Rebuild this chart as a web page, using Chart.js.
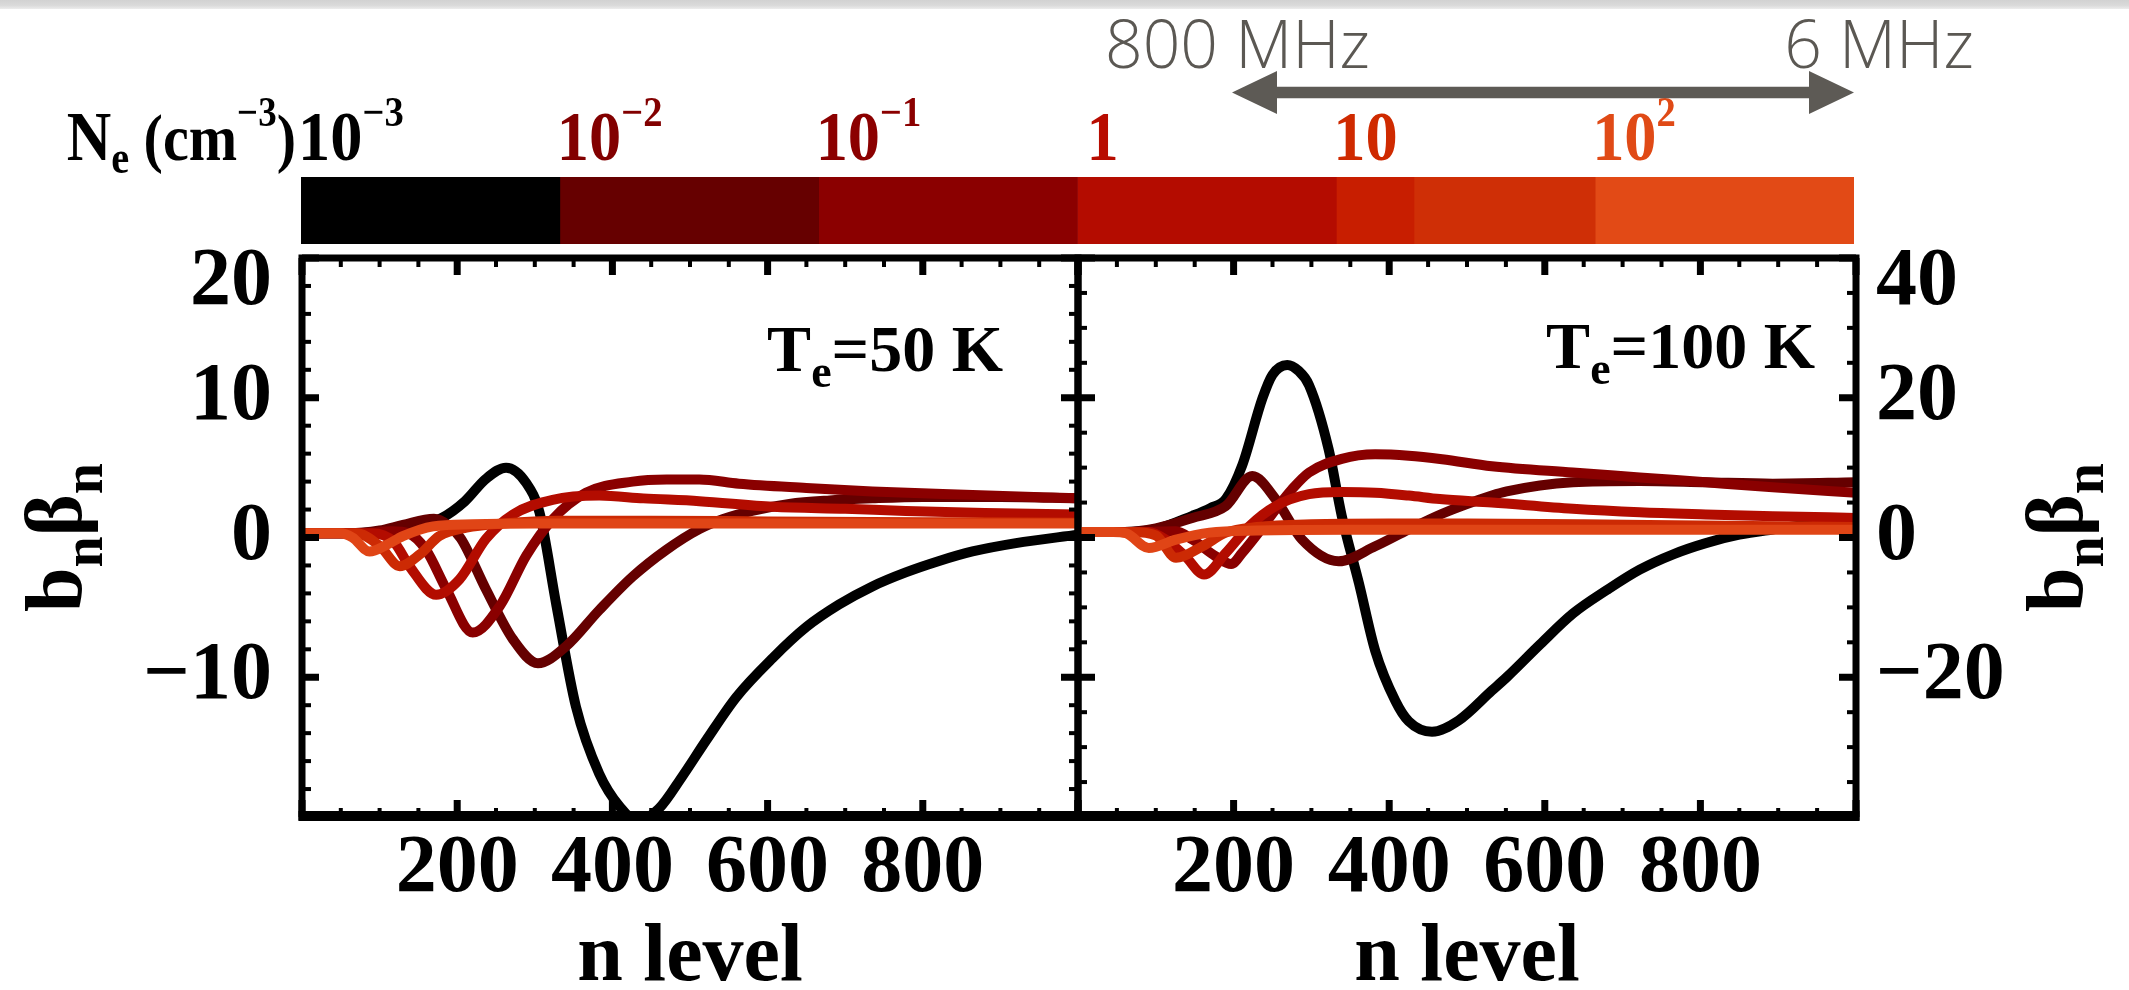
<!DOCTYPE html>
<html>
<head>
<meta charset="utf-8">
<script src="https://cdn.jsdelivr.net/npm/chart.js@4.4.0/dist/chart.umd.min.js"></script>
<style>
html,body{margin:0;padding:0;background:#fff;}
#wrap{position:relative;width:2129px;height:990px;overflow:hidden;background:#fff;}
#topband{position:absolute;left:0;top:0;width:2129px;height:9px;background:linear-gradient(#d2d2d2,#dadada 60%,#ececec);}
canvas{position:absolute;left:0;top:0;}
</style>
</head>
<body>
<div id="wrap">
<div id="topband"></div>
<canvas id="cL" width="2129" height="990" style="width:2129px;height:990px"></canvas>
<canvas id="cR" width="2129" height="990" style="width:2129px;height:990px"></canvas>
<canvas id="cB" width="2129" height="990" style="width:2129px;height:990px"></canvas>
</div>
<script>
// ---------------- DATA ----------------
const xTickValues = [200, 400, 600, 800];
const yTicks50 = [-10, 0, 10];
const yTicks100 = [-20, 0, 20];
const densityLabels = [['10','\u22123'], ['10','\u22122'], ['10','\u22121'], ['1',''], ['10',''], ['10','2']];
const densityLabelColors = ['#000000', '#820000', '#8b0000', '#b80c00', '#cf2a00', '#e04a16'];
const lineColors = ['#000000', '#650000', '#8a0000', '#b30c00', '#cc2a04', '#e04516'];
const cbarWidths = [1, 1, 1, 1, 0.3, 0.7, 1];
const cbarColors = ['#000000', '#660000', '#8b0000', '#b40c00', '#c81e00', '#cf2f06', '#e24a16'];

// T_e = 50 K panel (n level, b_n beta_n)
const n50_m3 = [0, 50, 100, 140, 180, 210, 237, 263, 289, 306, 328, 353, 383, 410, 432, 460, 490, 521, 560, 607, 650, 692, 735, 778, 820, 864, 920, 1000];
const b50_m3 = [0.3, 0.3, 0.4, 0.7, 1.4, 2.6, 4.2, 5.0, 3.9, 1.8, -4.9, -12.1, -16.9, -19.3, -20.3, -19.4, -17.1, -14.5, -11.4, -8.6, -6.4, -4.8, -3.5, -2.5, -1.7, -1.0, -0.4, 0.2];
const n50_m2 = [0, 60, 100, 130, 170, 188, 205, 237, 272, 304, 340, 383, 426, 469, 512, 542, 580, 628, 680, 735, 800, 900, 1000];
const b50_m2 = [0.3, 0.3, 0.5, 0.9, 1.35, 0.9, -0.1, -3.7, -7.3, -9.0, -7.8, -5.2, -2.8, -0.9, 0.6, 1.3, 1.9, 2.4, 2.65, 2.8, 2.9, 2.9, 2.8];
const n50_m1 = [0, 80, 115, 137, 160, 186, 220, 255, 289, 323, 366, 426, 470, 512, 563, 650, 735, 864, 1000];
const b50_m1 = [0.3, 0.3, 0.45, 0.3, -0.9, -3.7, -6.8, -4.9, -1.3, 1.3, 3.2, 4.0, 4.15, 4.15, 3.85, 3.55, 3.3, 3.05, 2.8];
const n50_0 = [0, 90, 118, 139, 173, 203, 237, 272, 323, 383, 440, 512, 607, 700, 778, 880, 1000];
const b50_0 = [0.3, 0.3, -0.3, -2.1, -4.1, -3.0, -0.1, 1.65, 2.7, 3.0, 2.8, 2.6, 2.2, 2.05, 1.9, 1.75, 1.65];
const n50_1 = [0, 70, 100, 126, 152, 177, 212, 260, 330, 450, 600, 800, 1000];
const b50_1 = [0.3, 0.3, -0.6, -2.05, -1.2, 0.1, 0.7, 1.0, 1.2, 1.2, 1.15, 1.1, 1.05];
const n50_2 = [0, 50, 65, 87, 110, 130, 169, 220, 300, 500, 700, 1000];
const b50_2 = [0.3, 0.3, 0.0, -1.0, -0.5, 0.1, 0.8, 0.95, 1.0, 1.0, 1.0, 1.0];

// T_e = 100 K panel
const n100_m3 = [0, 60, 100, 147, 170, 190, 211, 237, 250, 269, 283, 297, 322, 339, 361, 382, 408, 425, 455, 489, 532, 551, 594, 636, 680, 722, 765, 807, 850, 893, 940, 1000];
const b100_m3 = [0.8, 0.8, 1.2, 3.1, 4.2, 5.5, 10.3, 19.9, 23.3, 24.7, 23.9, 21.8, 12.7, 3.1, -6.5, -16.2, -23.4, -26.3, -27.8, -26.2, -21.9, -20.0, -15.3, -10.9, -7.5, -4.6, -2.4, -0.8, 0.4, 1.15, 1.85, 2.4];
const n100_m2 = [0, 60, 100, 147, 190, 224, 254, 288, 335, 382, 425, 468, 532, 551, 636, 722, 807, 893, 1000];
const b100_m2 = [0.8, 0.8, 1.3, 2.8, 4.5, 8.8, 5.5, -0.3, -3.4, -1.25, 1.15, 3.4, 6.0, 6.6, 7.9, 8.1, 7.9, 7.7, 7.9];
const n100_m1 = [0, 80, 126, 147, 177, 197, 211, 232, 254, 275, 297, 339, 382, 425, 468, 532, 636, 722, 807, 893, 1000];
const b100_m1 = [0.8, 0.8, 0.9, -0.3, -2.7, -3.8, -2.2, 0.7, 4.0, 6.9, 9.3, 11.25, 11.9, 11.7, 11.2, 10.2, 9.3, 8.6, 7.9, 7.2, 6.4];
const n100_0 = [0, 90, 113, 138, 162, 190, 220, 254, 297, 339, 382, 425, 465, 532, 636, 722, 807, 893, 1000];
const b100_0 = [0.8, 0.8, -0.3, -2.7, -5.3, -2.2, 1.6, 4.5, 6.2, 6.5, 6.4, 6.0, 5.5, 5.0, 4.1, 3.6, 3.3, 3.05, 2.8];
const n100_1 = [0, 70, 100, 126, 160, 190, 230, 300, 400, 500, 650, 800, 1000];
const b100_1 = [0.8, 0.8, 0.3, -2.9, -1.25, 0.7, 1.5, 1.9, 2.0, 2.0, 1.9, 1.7, 1.5];
const n100_2 = [0, 45, 62, 91, 126, 169, 230, 350, 500, 700, 1000];
const b100_2 = [0.8, 0.8, 0.6, -1.5, -0.3, 0.7, 1.0, 1.1, 1.1, 1.1, 1.1];

// ---------------- HELPERS ----------------
const SERIF = '"Liberation Serif","Times New Roman",Times,serif';
const SANS = '"Open Sans","Lato","Liberation Sans",sans-serif';
const W = 2129, H = 990;

function fmtTick(v) { return v < 0 ? '\u2212' + Math.abs(v) : String(v); }
function pts(ns, bs) { return ns.map((n, i) => ({x: n, y: bs[i]})); }

function drawRich(ctx, x, y, parts, align, sx) {
  sx = sx || 1;
  let total = 0;
  parts.forEach(p => {
    ctx.font = (p.w || 'bold') + ' ' + p.s + 'px ' + (p.f || SERIF);
    p.width = ctx.measureText(p.t).width;
    total += p.width;
  });
  ctx.save();
  ctx.translate(x, y);
  ctx.scale(sx, 1);
  let cx = align === 'right' ? -total : align === 'center' ? -total / 2 : 0;
  ctx.textAlign = 'left';
  ctx.textBaseline = 'alphabetic';
  parts.forEach(p => {
    ctx.font = (p.w || 'bold') + ' ' + p.s + 'px ' + (p.f || SERIF);
    ctx.fillStyle = p.c || '#000';
    ctx.fillText(p.t, cx, p.dy || 0);
    cx += p.width;
  });
  ctx.restore();
}

function titleParts() {
  return [
    {t: 'b', s: 80}, {t: 'n', s: 56, dy: 21},
    {t: '\u03B2', s: 80}, {t: 'n', s: 56, dy: 21}
  ];
}

function decorPlugin(o) {
  return {
    id: 'decor',
    afterDraw(chart) {
      const ctx = chart.ctx, a = chart.chartArea;
      const xs = chart.scales.x, ys = chart.scales.y;
      ctx.save();
      ctx.fillStyle = '#000';
      // x ticks (bottom and top, pointing inward)
      const nx = Math.round((xs.max - xs.min) / o.xMinor);
      for (let k = 0; k <= nx; k++) {
        const v = xs.min + k * o.xMinor;
        const px = xs.getPixelForValue(v);
        const major = (v % o.xMajor) === 0;
        const L = major ? 17 : 9, Wd = major ? 7 : 4;
        ctx.fillRect(px - Wd / 2, a.bottom - L, Wd, L);
        ctx.fillRect(px - Wd / 2, a.top, Wd, L);
      }
      // y ticks (left and right)
      const ny = Math.round((ys.max - ys.min) / o.yMinor);
      for (let k = 0; k <= ny; k++) {
        const v = ys.min + k * o.yMinor;
        const py = ys.getPixelForValue(v);
        const major = ((v - ys.min) % o.yMajor) === 0;
        const L = major ? 17 : 9, Wd = major ? 7 : 4;
        ctx.fillRect(a.left, py - Wd / 2, L, Wd);
        ctx.fillRect(a.right - L, py - Wd / 2, L, Wd);
      }
      // frame
      ctx.strokeStyle = '#000';
      ctx.lineWidth = 7;
      ctx.strokeRect(a.left, a.top, a.right - a.left, a.bottom - a.top);
      ctx.fillRect(a.left - 3.5, a.bottom - 6, a.right - a.left + 7, 10);

      // top tick label (shifted inside like the original)
      ctx.font = 'bold 82px ' + SERIF;
      ctx.textBaseline = 'middle';
      if (o.side === 'left') {
        ctx.textAlign = 'right';
        ctx.fillText(fmtTick(ys.max), a.left - 30, a.top + 25);
      } else {
        ctx.textAlign = 'left';
        ctx.fillText(fmtTick(ys.max), a.right + 20, a.top + 25);
      }

      // temperature label
      drawRich(ctx, a.right - o.tRight, o.tBase, [
        {t: 'T', s: 66}, {t: 'e', s: 46, dy: 16}, {t: o.tText, s: 66}
      ], 'right');

      // axis title b_n beta_n (rotated, reading upwards)
      ctx.save();
      const tx = o.side === 'left' ? 81 : a.right + 226;
      ctx.translate(tx, (a.top + a.bottom) / 2);
      ctx.rotate(-Math.PI / 2);
      drawRich(ctx, 0, 0, titleParts(), 'center');
      ctx.restore();
      ctx.restore();
    }
  };
}

function makePanel(id, o) {
  const series = o.series;
  return new Chart(document.getElementById(id), {
    type: 'line',
    data: {
      datasets: series.map((s, i) => ({
        data: s,
        borderColor: lineColors[i],
        backgroundColor: lineColors[i],
        borderWidth: 10,
        pointRadius: 0,
        fill: false,
        cubicInterpolationMode: 'monotone',
        borderJoinStyle: 'round',
        order: series.length - 1 - i
      }))
    },
    options: {
      responsive: false,
      animation: false,
      devicePixelRatio: 1,
      events: [],
      layout: {padding: o.padding},
      plugins: {legend: {display: false}, tooltip: {enabled: false}},
      scales: {
        x: {
          type: 'linear', min: 0, max: 1000, position: 'bottom',
          grid: {display: false, drawTicks: false}, border: {display: false},
          ticks: {
            stepSize: 200, autoSkip: false, maxRotation: 0, padding: 4, color: '#000',
            font: {family: SERIF, weight: 'bold', size: 82},
            callback: v => xTickValues.includes(v) ? String(v) : ''
          },
          title: {display: true, text: 'n level', color: '#000', padding: 0,
                  font: {family: SERIF, weight: 'bold', size: 82, lineHeight: 0.76}},
          afterFit: s => { s.height = 173; }
        },
        y: {
          type: 'linear', min: o.yMin, max: o.yMax, position: o.side,
          grid: {display: false, drawTicks: false}, border: {display: false},
          ticks: {
            stepSize: o.yMajor, autoSkip: false, padding: o.side === 'left' ? 30 : 20, color: '#000',
            font: {family: SERIF, weight: 'bold', size: 82},
            callback: v => o.yTicks.includes(v) ? fmtTick(v) : ''
          },
          afterFit: s => { s.width = o.yWidth; }
        }
      }
    },
    plugins: [decorPlugin(o)]
  });
}

makePanel('cL', {
  series: [pts(n50_m3, b50_m3), pts(n50_m2, b50_m2), pts(n50_m1, b50_m1), pts(n50_0, b50_0), pts(n50_1, b50_1), pts(n50_2, b50_2)],
  yMin: -20, yMax: 20, yMajor: 10, yMinor: 2, yTicks: yTicks50,
  xMajor: 200, xMinor: 50, side: 'left', yWidth: 302,
  padding: {left: 0, right: W - 1078, top: 258, bottom: 0},
  tText: '=50 K', tRight: 75, tBase: 371
});

makePanel('cR', {
  series: [pts(n100_m3, b100_m3), pts(n100_m2, b100_m2), pts(n100_m1, b100_m1), pts(n100_0, b100_0), pts(n100_1, b100_1), pts(n100_2, b100_2)],
  yMin: -40, yMax: 40, yMajor: 20, yMinor: 5, yTicks: yTicks100,
  xMajor: 200, xMinor: 50, side: 'right', yWidth: W - 1856,
  padding: {left: 1078, right: 0, top: 258, bottom: 0},
  tText: '=100 K', tRight: 41, tBase: 368
});

// ---------------- COLOR BAR + FREQUENCY ARROW ----------------
const topDecor = {
  id: 'topDecor',
  afterDraw(chart) {
    const ctx = chart.ctx, xs = chart.scales.x;
    ctx.save();
    // density labels
    densityLabels.forEach((lab, i) => {
      const x = xs.getPixelForValue(i) - 3 + (lab[0] === '1' ? 12 : 0);
      const parts = [{t: lab[0], s: 70, c: densityLabelColors[i]}];
      if (lab[1]) parts.push({t: lab[1], s: 42, dy: -34, c: densityLabelColors[i]});
      drawRich(ctx, x, 160, parts, 'left', 0.92);
    });
    // N_e (cm^-3)
    drawRich(ctx, 296, 160, [
      {t: 'N', s: 70}, {t: 'e', s: 46, dy: 13}, {t: ' (cm', s: 66}, {t: '\u22123', s: 42, dy: -34}, {t: ')', s: 66}
    ], 'right', 0.88);

    // frequency labels
    ctx.fillStyle = '#5b5853';
    ctx.font = '300 66px ' + SANS;
    ctx.textBaseline = 'alphabetic';
    ctx.textAlign = 'left';
    ctx.fillText('800 MHz', 1105, 68);
    ctx.textAlign = 'right';
    ctx.fillText('6 MHz', 1974, 68);

    // double arrow
    const y = 92.5, x1 = 1232, x2 = 1854, hl = 45, hh = 21.5, st = 5.8;
    ctx.fillStyle = '#5d5a55';
    ctx.beginPath();
    ctx.moveTo(x1, y);
    ctx.lineTo(x1 + hl, y - hh);
    ctx.lineTo(x1 + hl, y - st);
    ctx.lineTo(x2 - hl, y - st);
    ctx.lineTo(x2 - hl, y - hh);
    ctx.lineTo(x2, y);
    ctx.lineTo(x2 - hl, y + hh);
    ctx.lineTo(x2 - hl, y + st);
    ctx.lineTo(x1 + hl, y + st);
    ctx.lineTo(x1 + hl, y + hh);
    ctx.closePath();
    ctx.fill();
    ctx.restore();
  }
};

new Chart(document.getElementById('cB'), {
  type: 'bar',
  data: {
    labels: ['Ne'],
    datasets: cbarWidths.map((w, i) => ({
      data: [w], backgroundColor: cbarColors[i], borderWidth: 0,
      barPercentage: 1, categoryPercentage: 1
    }))
  },
  options: {
    indexAxis: 'y',
    responsive: false, animation: false, devicePixelRatio: 1, events: [],
    layout: {padding: {left: 301, right: W - 1854, top: 177, bottom: H - 244}},
    plugins: {legend: {display: false}, tooltip: {enabled: false}},
    scales: {
      x: {type: 'linear', stacked: true, min: 0, max: 6, display: false},
      y: {stacked: true, display: false}
    }
  },
  plugins: [topDecor]
});
</script>
</body>
</html>
